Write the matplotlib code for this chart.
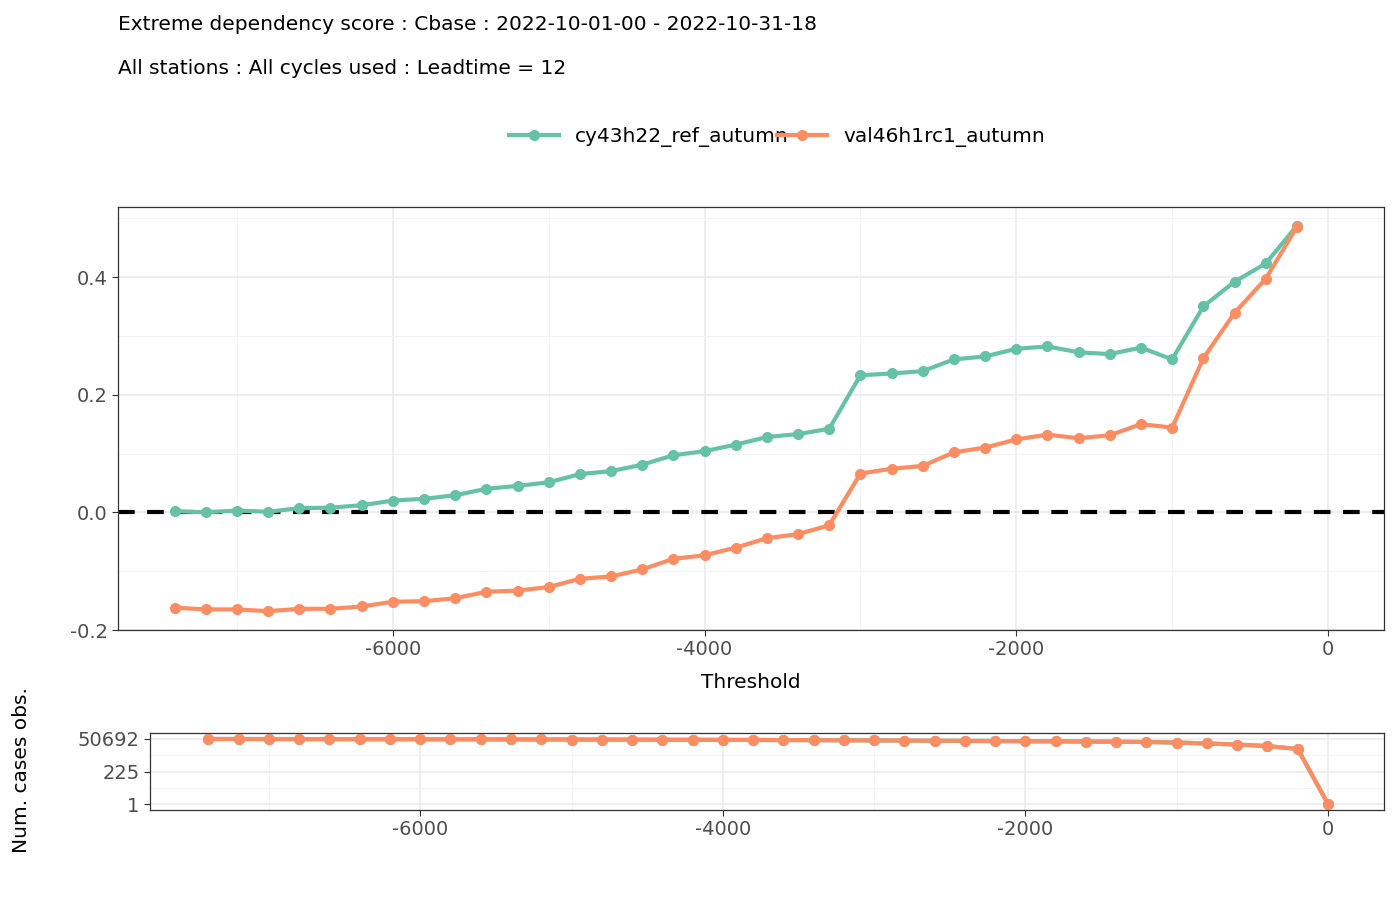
import numpy as np
import matplotlib.pyplot as plt
from matplotlib.ticker import MultipleLocator, FixedLocator, NullFormatter

threshold = list(range(-7400, 0, 200))
ref_eds = [0.002, 0.0, 0.003, 0.001, 0.007, 0.008, 0.012, 0.020, 0.023, 0.029,
           0.040, 0.045, 0.051, 0.065, 0.070, 0.081, 0.097, 0.104, 0.115, 0.128,
           0.133, 0.142, 0.233, 0.236, 0.240, 0.260, 0.265, 0.278, 0.282, 0.272,
           0.269, 0.280, 0.260, 0.350, 0.392, 0.423, 0.487]
val_eds = [-0.162, -0.165, -0.165, -0.168, -0.164, -0.164, -0.160, -0.152, -0.151, -0.146,
           -0.135, -0.133, -0.127, -0.113, -0.109, -0.097, -0.079, -0.073, -0.060, -0.044,
           -0.037, -0.022, 0.066, 0.074, 0.079, 0.102, 0.110, 0.124, 0.132, 0.126,
           0.131, 0.150, 0.144, 0.262, 0.339, 0.397, 0.485]

count_thr = list(range(-7400, 200, 200))
num_cases = [50692, 50400, 50100, 49800, 49500, 49200, 48800, 48400, 48000, 47600,
             47200, 46800, 46300, 45800, 45300, 44800, 44200, 43600, 43000, 42300,
             41600, 40800, 40000, 39000, 38000, 37000, 36000, 35000, 34000, 33000,
             32000, 30500, 28000, 24000, 20000, 15500, 9600, 1]

GREEN = "#66C2A5"
ORANGE = "#FC8D62"
TXT = "#4d4d4d"

fig = plt.figure(figsize=(14, 9), dpi=100)
ax = fig.add_axes([118/1400, 1-630/900, (1384-118)/1400, (630-207)/900])
ax2 = fig.add_axes([150/1400, 1-810/900, (1384-150)/1400, (810-733)/900])

for a in (ax, ax2):
    a.set_axisbelow(True)
    a.grid(True, which="major", color="#ebebeb", lw=1.2)
    a.grid(True, which="minor", color="#f3f3f3", lw=0.7)
    for s in a.spines.values():
        s.set_color("#333333")
        s.set_linewidth(0.9)
    a.tick_params(colors="#333333", labelcolor=TXT, labelsize=14, length=4)

ax.axhline(0, color="black", ls=(0, (4, 3)), lw=3, zorder=2)
ax.plot(threshold, ref_eds, color=GREEN, lw=3, marker="o", ms=7, label="cy43h22_ref_autumn", zorder=3)
ax.plot(threshold, val_eds, color=ORANGE, lw=3, marker="o", ms=7, label="val46h1rc1_autumn", zorder=3)
ax.set_xlim(-7763, 359)
ax.set_ylim(-0.2, 0.519)
ax.xaxis.set_major_locator(MultipleLocator(2000))
ax.xaxis.set_minor_locator(MultipleLocator(1000))
ax.yaxis.set_major_locator(MultipleLocator(0.2))
ax.yaxis.set_minor_locator(MultipleLocator(0.1))
ax.tick_params(which="minor", length=0)
ax.yaxis.set_major_formatter(plt.FuncFormatter(lambda v, p: f"{v:.1f}"))
ax.xaxis.set_major_formatter(plt.FuncFormatter(lambda v, p: f"{v:.0f}"))
ax.set_xlabel("Threshold", fontsize=14.5, labelpad=10)

ax2.plot(count_thr, num_cases, color=GREEN, lw=3, marker="o", ms=7, zorder=3)
ax2.plot(count_thr, num_cases, color=ORANGE, lw=3, marker="o", ms=7, zorder=4)
ax2.set_yscale("log")
ax2.set_xlim(-7786, 370)
ax2.set_ylim(0.37, 137000)
ax2.yaxis.set_major_locator(FixedLocator([1, 225, 50692]))
ax2.yaxis.set_minor_locator(FixedLocator([15, 3377]))
ax2.yaxis.set_major_formatter(plt.FuncFormatter(lambda v, p: f"{v:.0f}"))
ax2.yaxis.set_minor_formatter(NullFormatter())
ax2.xaxis.set_major_locator(MultipleLocator(2000))
ax2.xaxis.set_minor_locator(MultipleLocator(1000))
ax2.xaxis.set_major_formatter(plt.FuncFormatter(lambda v, p: f"{v:.0f}"))
ax2.tick_params(which="minor", length=0)

fig.text(118/1400, 1-25/900, "Extreme dependency score : Cbase : 2022-10-01-00 - 2022-10-31-18",
         fontsize=14.5, va="center")
fig.text(118/1400, 1-68/900, "All stations : All cycles used : Leadtime = 12",
         fontsize=14.5, va="center")
fig.legend(loc="center", bbox_to_anchor=(0.555, 1-137/900), ncol=2, frameon=False,
           fontsize=14.5, handlelength=2.5, columnspacing=-0.6, handletextpad=0.8)
fig.text(22/1400, 1-770/900, "Num. cases obs.", rotation=90, fontsize=14.5, va="center", ha="center")

fig.savefig("out.png", dpi=100)
